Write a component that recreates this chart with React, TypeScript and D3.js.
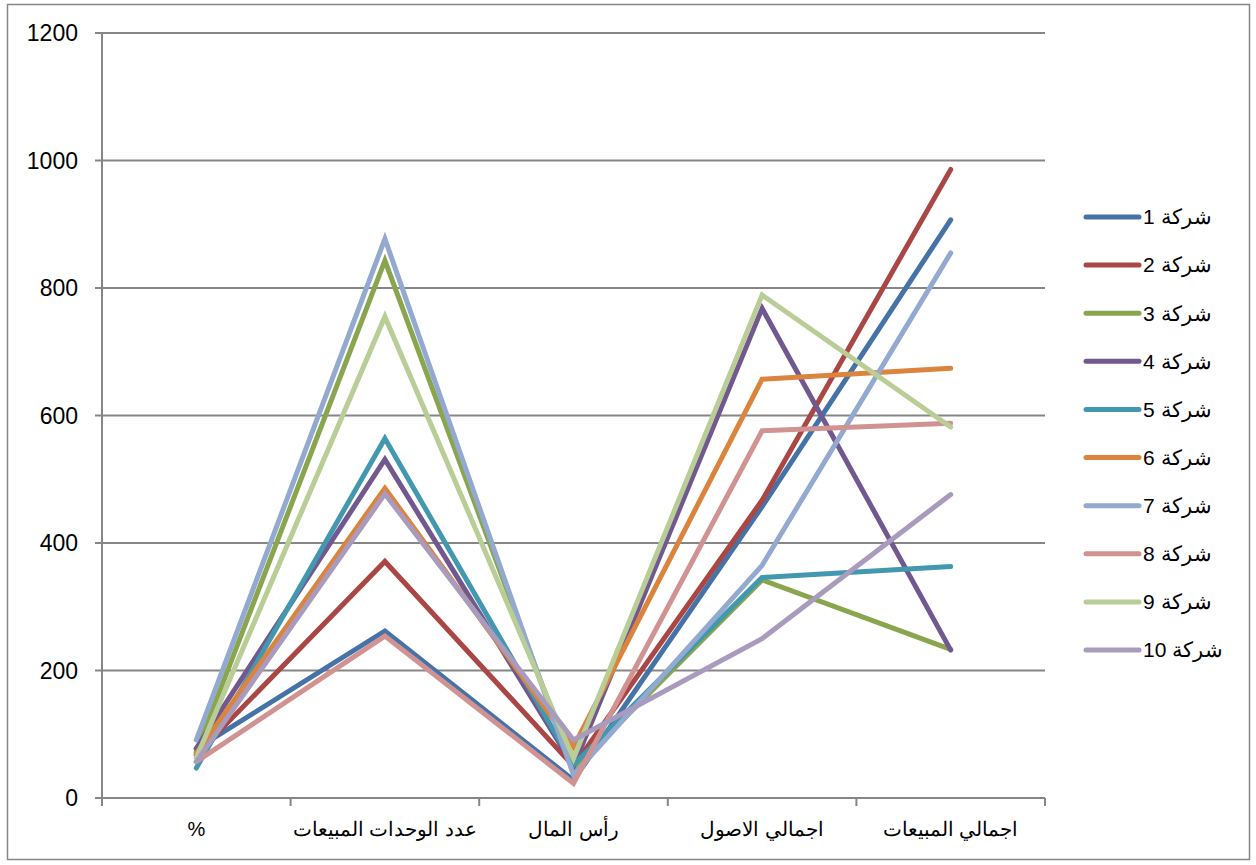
import React from 'react';
import * as d3 from 'd3';

const categories = ['%', 'عدد الوحدات المبيعات', 'رأس المال', 'اجمالي الاصول', 'اجمالي المبيعات'];
const seriesNames = ['شركة 1', 'شركة 2', 'شركة 3', 'شركة 4', 'شركة 5', 'شركة 6', 'شركة 7', 'شركة 8', 'شركة 9', 'شركة 10'];
const s1 = [77, 262, 28, 457, 907];
const s2 = [68, 371, 50, 467, 986];
const s3 = [72, 843, 45, 342, 233];
const s4 = [78, 531, 50, 768, 232];
const s5 = [47, 564, 52, 346, 363];
const s6 = [70, 486, 80, 657, 674];
const s7 = [91, 877, 36, 365, 855];
const s8 = [57, 254, 23, 576, 588];
const s9 = [63, 755, 62, 789, 582];
const s10 = [57, 477, 91, 250, 476];
const allSeries = [s1, s2, s3, s4, s5, s6, s7, s8, s9, s10];
const colors = ['#4572A7', '#AA4643', '#89A54E', '#71588F', '#4198AF', '#DB843D', '#93A9CF', '#D19392', '#B9CD96', '#A99BBD'];
const yTicks = [0, 200, 400, 600, 800, 1000, 1200];

const W = 1256;
const H = 865;
const plot = { left: 102, right: 1045, top: 33, bottom: 798 };

export default function App() {
  const x = d3.scaleBand<string>().domain(categories).range([plot.left, plot.right]);
  const y = d3.scaleLinear().domain([0, 1200]).range([plot.bottom, plot.top]);
  const cx = (c: string) => (x(c) as number) + x.bandwidth() / 2;

  const line = d3
    .line<number>()
    .x((_, i) => cx(categories[i]))
    .y((d) => y(d));

  const legendY = d3.scalePoint<string>().domain(seriesNames).range([217, 650]);
  const boundaries = [...categories.map((c) => x(c) as number), plot.right];

  return (
    <svg
      width={W}
      height={H}
      style={{ position: 'absolute', left: 0, top: 0, background: '#fff' }}
      fontFamily="'Liberation Sans', Arial, sans-serif"
    >
      <rect x={7.5} y={4.5} width={1242} height={855} fill="#fff" stroke="#868686" strokeWidth={1.5} />

      {/* grid + y ticks */}
      {yTicks.map((t) => (
        <g key={t}>
          {t > 0 && (
            <line x1={plot.left} x2={plot.right} y1={y(t)} y2={y(t)} stroke="#868686" strokeWidth={2} />
          )}
          <line x1={95} x2={plot.left} y1={y(t)} y2={y(t)} stroke="#868686" strokeWidth={2} />
          <text x={78} y={y(t)} dy="0.35em" textAnchor="end" fontSize={23} fill="#000">
            {t}
          </text>
        </g>
      ))}

      {/* axes */}
      <line x1={plot.left} x2={plot.left} y1={plot.top} y2={plot.bottom} stroke="#868686" strokeWidth={2} />
      <line x1={plot.left} x2={plot.right} y1={plot.bottom} y2={plot.bottom} stroke="#868686" strokeWidth={2} />
      {boundaries.map((b, i) => (
        <line key={i} x1={b} x2={b} y1={plot.bottom} y2={plot.bottom + 8} stroke="#868686" strokeWidth={2} />
      ))}
      {categories.map((c) => (
        <text key={c} x={cx(c)} y={836} textAnchor="middle" fontSize={20} fill="#000">
          {c}
        </text>
      ))}

      {/* series */}
      {allSeries.map((s, i) => (
        <path
          key={i}
          d={line(s) as string}
          fill="none"
          stroke={colors[i]}
          strokeWidth={5}
          strokeLinecap="round"
          strokeLinejoin="miter"
        />
      ))}

      {/* legend */}
      {seriesNames.map((n, i) => (
        <g key={n} transform={`translate(0,${legendY(n)})`}>
          <line x1={1086} x2={1139} y1={0} y2={0} stroke={colors[i]} strokeWidth={5} strokeLinecap="round" />
          <text x={1143} y={0} dy="0.35em" fontSize={21} fill="#000" direction="rtl" textAnchor="end" style={{ unicodeBidi: 'embed' }}>
            {n}
          </text>
        </g>
      ))}
    </svg>
  );
}
